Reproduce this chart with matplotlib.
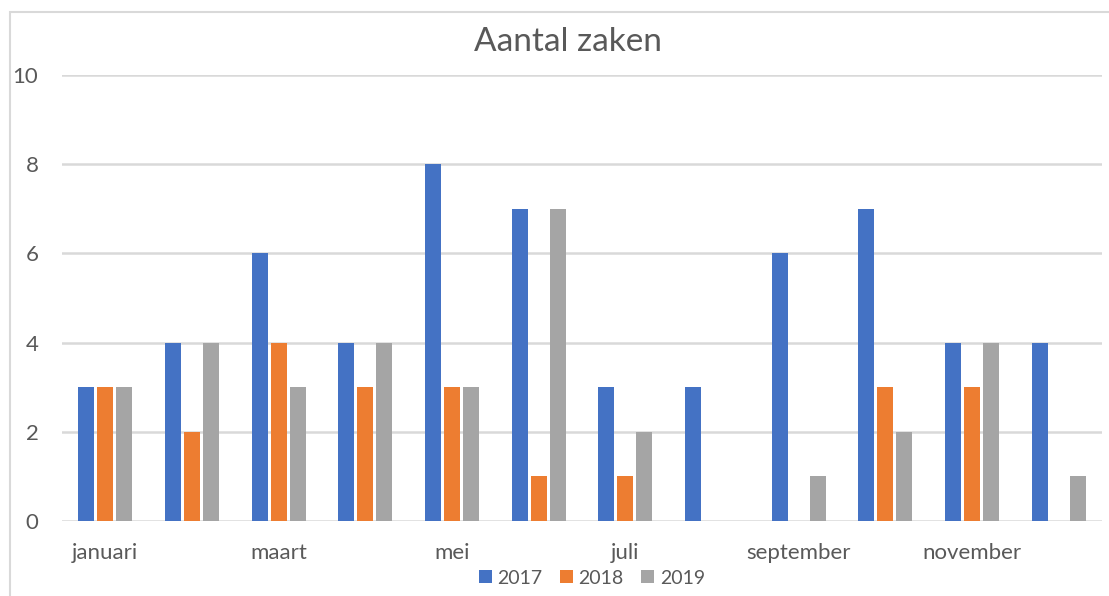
import numpy as np
import matplotlib.pyplot as plt
from matplotlib.patches import Rectangle

plt.rcParams['font.family'] = ['Lato', 'DejaVu Sans']

months = ['januari', 'februari', 'maart', 'april', 'mei', 'juni',
          'juli', 'augustus', 'september', 'oktober', 'november', 'december']
years = ['2017', '2018', '2019']
v2017 = [3, 4, 6, 4, 8, 7, 3, 3, 6, 7, 4, 4]
v2018 = [3, 2, 4, 3, 3, 1, 1, 0, 0, 3, 3, 0]
v2019 = [3, 4, 3, 4, 3, 7, 2, 0, 1, 2, 4, 1]
colors = ['#4472c4', '#ed7d31', '#a5a5a5']

W, H = 1109, 596
fig = plt.figure(figsize=(W / 100, H / 100), dpi=100)
ax = fig.add_axes([62 / W, 75 / H, 1040 / W, 446 / H])

x = np.arange(len(months))
step = 0.219
for i, (vals, c, lab) in enumerate(zip([v2017, v2018, v2019], colors, years)):
    ax.bar(x + (i - 1) * step, vals, width=0.185, color=c, label=lab, zorder=3)

ax.set_xlim(-0.5, len(months) - 0.5)
ax.set_ylim(0, 10)
ax.set_yticks(range(0, 11, 2))
ax.yaxis.grid(True, color='#d9d9d9', linewidth=1.8, zorder=0)
ax.set_axisbelow(True)
for s in ax.spines.values():
    s.set_visible(False)
ax.set_xticks(x[::2])
ax.set_xticklabels(months[::2])
ax.tick_params(axis='both', length=0, labelsize=16, colors='#595959')
ax.tick_params(axis='y', pad=17)
ax.tick_params(axis='x', pad=16)

fig.text(568 / W, 1 - 42 / H, 'Aantal zaken', ha='center', va='center',
         fontsize=24, color='#595959')

leg = fig.legend(loc='center', bbox_to_anchor=(592 / W, 1 - 578 / H), ncol=3,
                 frameon=False, fontsize=14, handlelength=0.65, handleheight=0.65,
                 handletextpad=0.3, columnspacing=0.9)
for t in leg.get_texts():
    t.set_color('#595959')

fig.patches.append(Rectangle((10 / W, -0.1), 1.2, 1.1 - 12 / H,
                             transform=fig.transFigure, fill=False,
                             edgecolor='#d9d9d9', linewidth=1.5))

fig.savefig('out.png', dpi=100)
